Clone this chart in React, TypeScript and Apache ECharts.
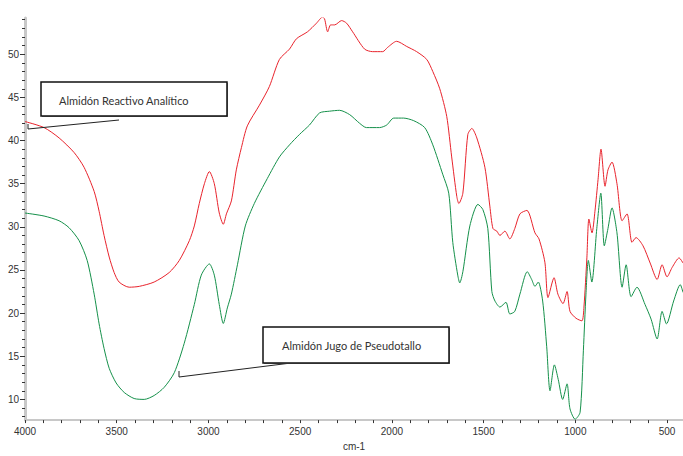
import React, { useEffect, useRef } from "react";
import * as echarts from "echarts";

const redWavenumbers = [4000, 3896, 3814, 3732, 3678, 3623, 3596, 3569, 3541, 3514, 3487, 3432, 3377, 3296, 3214, 3159, 3104, 3077, 3050, 3022, 2995, 2968, 2941, 2919, 2902, 2875, 2848, 2820, 2788, 2722, 2668, 2613, 2558, 2520, 2460, 2411, 2378, 2367, 2350, 2334, 2312, 2274, 2247, 2214, 2149, 2105, 2050, 2023, 1974, 1919, 1865, 1810, 1777, 1739, 1701, 1674, 1646, 1635, 1613, 1586, 1564, 1537, 1493, 1466, 1449, 1428, 1411, 1384, 1357, 1330, 1302, 1264, 1220, 1198, 1166, 1149, 1116, 1095, 1067, 1045, 1029, 996, 964, 953, 937, 926, 909, 893, 876, 860, 838, 822, 800, 773, 745, 718, 691, 669, 631, 592, 554, 527, 500, 472, 434, 413];
const redValues = [42.2, 41.5, 40.3, 38.6, 36.9, 34.1, 31.8, 29.0, 26.5, 24.7, 23.6, 23.0, 23.1, 23.6, 24.7, 26.1, 28.4, 30.1, 32.7, 35.0, 36.4, 35.0, 31.6, 30.3, 31.5, 33.0, 36.6, 39.2, 41.7, 44.1, 46.25, 49.4, 50.6, 51.8, 52.6, 53.6, 54.3, 54.1, 52.6, 53.4, 53.4, 53.9, 53.6, 52.6, 50.6, 50.3, 50.3, 50.8, 51.5, 50.9, 50.3, 49.4, 48.0, 46.0, 42.8, 38.1, 33.5, 32.7, 33.9, 40.7, 41.4, 40.3, 36.9, 32.4, 29.8, 29.5, 29.0, 29.5, 28.6, 29.8, 31.5, 31.9, 29.3, 28.6, 25.9, 21.8, 24.1, 22.2, 21.1, 22.5, 20.2, 19.4, 19.1, 20.7, 26.4, 30.9, 29.3, 31.8, 35.5, 39.0, 34.7, 36.6, 37.5, 35.0, 30.7, 31.5, 28.2, 28.75, 27.8, 25.8, 23.9, 25.6, 24.2, 25.3, 26.4, 25.8];

const greenWavenumbers = [4000, 3896, 3814, 3760, 3705, 3661, 3623, 3596, 3569, 3541, 3503, 3459, 3405, 3350, 3296, 3241, 3186, 3132, 3077, 3039, 2995, 2968, 2941, 2919, 2897, 2875, 2842, 2799, 2750, 2679, 2613, 2558, 2504, 2449, 2394, 2340, 2285, 2230, 2176, 2139, 2067, 2028, 1990, 1936, 1881, 1821, 1777, 1723, 1690, 1668, 1641, 1630, 1613, 1575, 1531, 1504, 1477, 1455, 1438, 1411, 1378, 1357, 1330, 1302, 1262, 1238, 1220, 1202, 1178, 1156, 1138, 1114, 1093, 1069, 1045, 1029, 1001, 974, 956, 942, 929, 910, 883, 861, 842, 822, 800, 773, 745, 723, 696, 664, 620, 587, 554, 527, 503, 464, 428, 413];
const greenValues = [31.6, 31.25, 30.7, 29.9, 28.4, 26.1, 22.2, 18.75, 15.9, 13.6, 11.9, 10.8, 10.1, 10.0, 10.45, 11.4, 13.1, 16.5, 21.0, 24.4, 25.7, 24.4, 21.0, 18.8, 20.6, 22.2, 25.6, 30.1, 32.7, 35.6, 38.1, 39.5, 40.7, 41.8, 43.2, 43.4, 43.5, 43.0, 42.0, 41.5, 41.5, 41.8, 42.6, 42.6, 42.3, 41.5, 39.5, 36.1, 33.9, 28.2, 24.4, 23.5, 24.8, 30.1, 32.6, 32.0, 29.8, 22.5, 21.4, 20.7, 21.25, 19.9, 20.2, 22.2, 24.8, 23.9, 23.1, 23.6, 21.4, 16.1, 11.0, 14.0, 12.3, 10.0, 11.8, 8.9, 7.7, 8.5, 15.7, 22.2, 26.1, 23.6, 29.8, 33.9, 27.8, 29.8, 32.2, 29.3, 23.0, 25.6, 21.9, 23.0, 21.0, 19.3, 17.0, 20.2, 18.75, 21.4, 23.3, 22.4];

const yLabelValues = [10, 15, 20, 25, 30, 35, 40, 45, 50];
const xLabelValues = [4000, 3500, 3000, 2500, 2000, 1500, 1000, 500];
const yMinorTicks = Array.from({ length: 47 }, (_, i) => 8 + i);
const xMinorTicks = Array.from({ length: 36 }, (_, i) => 500 + i * 100);

const labelRed = "Almidón Reactivo Analítico";
const labelGreen = "Almidón Jugo de Pseudotallo";
const xName = "cm-1";

export default function App() {
  const ref = useRef<HTMLDivElement>(null);
  useEffect(() => {
    if (!ref.current) return;
    const chart = echarts.init(ref.current, null, { renderer: "svg" });
    const font = "'Liberation Sans', Arial, sans-serif";
    const labelFont = "Lato, 'Open Sans', sans-serif";
    const yMin = 7.6;
    const yMax = 54.2;
    const xMin = 413;
    const xMax = 4000;
    const grid = { left: 25, right: 0, top: 18, bottom: 28 };
    chart.setOption({
      animation: false,
      backgroundColor: "#ffffff",
      grid,
      xAxis: [
        {
          type: "value",
          inverse: true,
          min: xMin,
          max: xMax,
          axisLine: { show: true, lineStyle: { color: "#c8c8c8", width: 2 } },
          axisTick: { show: true, length: 3, customValues: xMinorTicks, lineStyle: { color: "#333", width: 1 } },
          axisLabel: {
            show: true,
            customValues: xLabelValues,
            margin: 6,
            fontSize: 10,
            color: "#333",
            fontFamily: font,
            formatter: (v: number) => String(Math.round(v)),
          },
          splitLine: { show: false },
          name: xName,
          nameLocation: "middle",
          nameGap: 19,
          nameTextStyle: { fontSize: 10, color: "#333", fontFamily: font },
        },
      ],
      yAxis: [
        {
          type: "value",
          min: yMin,
          max: yMax,
          axisLine: { show: true, lineStyle: { color: "#c8c8c8", width: 3 } },
          axisTick: { show: true, length: 3, customValues: yMinorTicks, lineStyle: { color: "#333", width: 1 } },
          axisLabel: { show: false },
          splitLine: { show: false },
        },
        {
          type: "value",
          min: yMin,
          max: yMax,
          position: "left",
          axisLine: { show: false },
          axisTick: { show: true, length: 5, customValues: yLabelValues, lineStyle: { color: "#333", width: 1 } },
          axisLabel: {
            show: true,
            customValues: yLabelValues,
            margin: 6,
            fontSize: 10,
            color: "#333",
            fontFamily: font,
            formatter: (v: number) => String(Math.round(v)),
          },
          splitLine: { show: false },
        },
      ],
      series: [
        {
          name: labelRed,
          type: "line",
          data: redWavenumbers.map((w, i) => [w, redValues[i]]),
          showSymbol: false,
          smooth: 0.25,
          lineStyle: { color: "#e8232c", width: 1 },
          itemStyle: { color: "#e8232c" },
          z: 3,
        },
        {
          name: labelGreen,
          type: "line",
          data: greenWavenumbers.map((w, i) => [w, greenValues[i]]),
          showSymbol: false,
          smooth: 0.25,
          lineStyle: { color: "#15904a", width: 1 },
          itemStyle: { color: "#15904a" },
          z: 3,
        },
      ],
      graphic: [
        { type: "polyline", shape: { points: [[28, 124], [28, 129], [119, 120]] }, style: { stroke: "#222", lineWidth: 1, fill: null }, z: 10 },
        { type: "rect", shape: { x: 42, y: 83, width: 186, height: 34 }, style: { fill: "#888", stroke: null }, z: 10 },
        { type: "rect", shape: { x: 41, y: 82, width: 186, height: 34 }, style: { fill: "#fff", stroke: "#111", lineWidth: 1.5 }, z: 11 },
        { type: "text", x: 59, y: 100, style: { text: labelRed, font: `11px ${labelFont}`, fill: "#333", textVerticalAlign: "middle", verticalAlign: "middle" }, z: 12 },
        { type: "polyline", shape: { points: [[179, 371], [179, 377], [291, 363]] }, style: { stroke: "#222", lineWidth: 1, fill: null }, z: 10 },
        { type: "rect", shape: { x: 264, y: 328, width: 186, height: 36 }, style: { fill: "#888", stroke: null }, z: 10 },
        { type: "rect", shape: { x: 263, y: 327, width: 186, height: 36 }, style: { fill: "#fff", stroke: "#111", lineWidth: 1.5 }, z: 11 },
        { type: "text", x: 282, y: 345, style: { text: labelGreen, font: `11px ${labelFont}`, fill: "#333", textVerticalAlign: "middle", verticalAlign: "middle" }, z: 12 },
      ],
    });
    return () => chart.dispose();
  }, []);
  return <div ref={ref} style={{ position: "absolute", left: 0, top: 0, width: 683, height: 456 }} />;
}
